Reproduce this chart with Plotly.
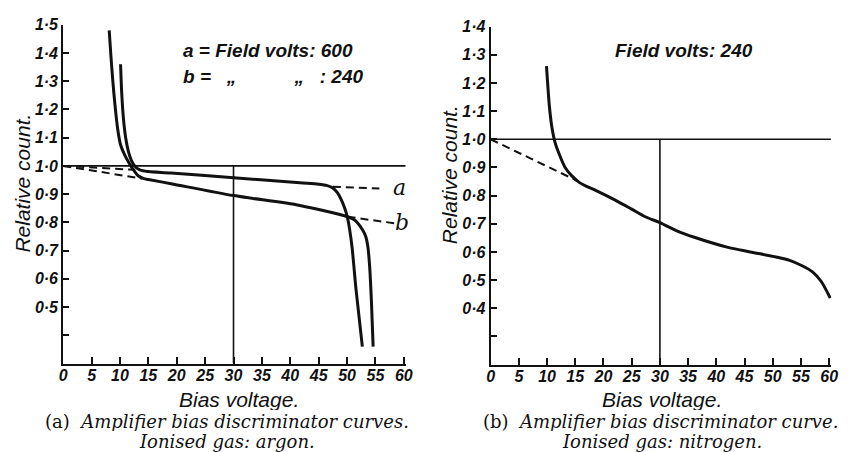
import plotly.graph_objects as go

W, H = 853, 452

# ---------------- data ----------------
# Panel (a): argon
a_x = [10.1, 10.3, 10.6, 11.0, 11.5, 12.0, 12.7, 13.6, 15.0, 19.0, 30.0, 41.7, 45.0, 46.5, 47.5, 48.3, 49.0, 49.6, 50.1, 50.5, 50.9, 51.6, 52.7]
a_y = [1.36, 1.26, 1.17, 1.10, 1.05, 1.02, 0.997, 0.985, 0.98, 0.975, 0.958, 0.940, 0.935, 0.930, 0.922, 0.905, 0.88, 0.85, 0.815, 0.77, 0.71, 0.56, 0.36]
b_x = [8.1, 8.4, 8.7, 9.1, 9.6, 10.1, 10.8, 11.6, 12.4, 13.2, 14.2, 15.0, 19.0, 30.0, 41.7, 50.1, 51.2, 51.9, 52.7, 53.3, 53.7, 54.0, 54.3, 54.6]
b_y = [1.48, 1.39, 1.31, 1.22, 1.13, 1.075, 1.04, 1.01, 0.985, 0.965, 0.955, 0.952, 0.937, 0.895, 0.86, 0.82, 0.81, 0.797, 0.775, 0.75, 0.71, 0.64, 0.52, 0.36]
a_dash_start_x = [0.0, 12.7]
a_dash_start_y = [1.0, 0.986]
b_dash_start_x = [0.0, 13.9]
b_dash_start_y = [1.0, 0.955]
a_dash_end_x = [47.5, 55.7]
a_dash_end_y = [0.926, 0.92]
b_dash_end_x = [50.1, 58.3]
b_dash_end_y = [0.82, 0.797]

# Panel (b): nitrogen
n_x = [9.9, 10.1, 10.4, 10.8, 11.4, 12.2, 13.2, 14.4, 15.7, 17.0, 18.7, 22.0, 25.0, 27.4, 30.0, 33.0, 36.1, 41.9, 46.0, 50.6, 53.0, 55.3, 57.0, 58.6, 60.2]
n_y = [1.26, 1.20, 1.12, 1.05, 0.99, 0.945, 0.90, 0.87, 0.847, 0.833, 0.818, 0.785, 0.752, 0.725, 0.704, 0.675, 0.652, 0.617, 0.60, 0.582, 0.57, 0.55, 0.53, 0.495, 0.436]
n_dash_x = [0.0, 15.2]
n_dash_y = [1.0, 0.854]

# reference lines
ref_h_x = [0.0, 60.3]
ref_h_y = [1.0, 1.0]
ref_v_x = [30.0, 30.0]
ref_v_top = 1.0
left_ymin, left_ymax = 0.3, 1.5
right_ymin, right_ymax = 0.2, 1.4

x_ticks = list(range(0, 61, 5))
x_ticktext = [str(v) for v in x_ticks]
left_yticks = [0.4, 0.5, 0.6, 0.7, 0.8, 0.9, 1.0, 1.1, 1.2, 1.3, 1.4, 1.5]
left_yticktext = ["", "0·5", "0·6", "0·7", "0·8", "0·9", "1·0", "1·1", "1·2", "1·3", "1·4", "1·5"]
right_yticks = [0.3, 0.4, 0.5, 0.6, 0.7, 0.8, 0.9, 1.0, 1.1, 1.2, 1.3, 1.4]
right_yticktext = ["", "0·4", "0·5", "0·6", "0·7", "0·8", "0·9", "1·0", "1·1", "1·2", "1·3", "1·4"]

# ---------------- figure ----------------
fig = go.Figure()
BLACK = "#111"
solid = dict(color=BLACK, width=3, shape="spline", smoothing=0.8)
thin = dict(color=BLACK, width=1.6)
dash = dict(color=BLACK, width=2, dash="8px,5px")

def add(x, y, line, xa="x", ya="y"):
    fig.add_trace(go.Scatter(x=x, y=y, mode="lines", line=line, xaxis=xa, yaxis=ya,
                             showlegend=False, hoverinfo="skip", cliponaxis=False))

# left panel
add(ref_h_x, ref_h_y, thin)
add(ref_v_x, [left_ymin, ref_v_top], thin)
add(a_dash_start_x, a_dash_start_y, dash)
add(b_dash_start_x, b_dash_start_y, dash)
add(a_dash_end_x, a_dash_end_y, dash)
add(b_dash_end_x, b_dash_end_y, dash)
add(a_x, a_y, solid)
add(b_x, b_y, solid)

# right panel
add(ref_h_x, ref_h_y, thin, "x2", "y2")
add(ref_v_x, [right_ymin, ref_v_top], thin, "x2", "y2")
add(n_dash_x, n_dash_y, dash, "x2", "y2")
add(n_x, n_y, solid, "x2", "y2")

def px_x(p):
    return p / W

def px_y(p):
    return 1 - p / H

tickfont = dict(family="Liberation Sans", size=16, color=BLACK, style="italic", weight="bold")
xaxis_common = dict(range=[0, 60.4], tickvals=x_ticks, ticktext=x_ticktext, ticks="inside", ticklen=7,
                    tickwidth=2, tickcolor=BLACK, showline=True, linewidth=2, linecolor=BLACK,
                    showgrid=False, zeroline=False, tickfont=tickfont, fixedrange=True,
                    ticklabelstandoff=-4)
yaxis_common = dict(ticks="inside", ticklen=6, tickwidth=2, tickcolor=BLACK, showline=True,
                    linewidth=2, linecolor=BLACK, showgrid=False, zeroline=False,
                    tickfont=dict(family="Liberation Sans", size=16, color=BLACK, style="italic", weight="bold"),
                    fixedrange=True)

fig.update_layout(
    width=W, height=H, margin=dict(l=0, r=0, t=0, b=0),
    paper_bgcolor="white", plot_bgcolor="white",
    xaxis=dict(domain=[px_x(60), px_x(407.3)], anchor="y", **xaxis_common),
    yaxis=dict(domain=[px_y(362), px_y(17)], anchor="x", range=[left_ymin, left_ymax],
               tickvals=left_yticks, ticktext=left_yticktext, **yaxis_common),
    xaxis2=dict(domain=[px_x(493), px_x(838.2)], anchor="y2", **xaxis_common),
    yaxis2=dict(domain=[px_y(363), px_y(19)], anchor="x2", range=[right_ymin, right_ymax],
                tickvals=right_yticks, ticktext=right_yticktext, **yaxis_common),
)

ann_font = dict(family="Liberation Sans", size=19, color=BLACK, style="italic", weight="bold")
serif = dict(family="DejaVu Serif", size=18, color=BLACK)
label_font = dict(family="DejaVu Serif", size=22, color=BLACK, style="italic")
title_font = dict(family="Liberation Sans", size=21, color=BLACK, style="italic")

def ann(text, x, y, font, xanchor="center", angle=0, xref="paper", yref="paper", height=None):
    fig.add_annotation(text=text, x=x, y=y, xref=xref, yref=yref, showarrow=False,
                       font=font, xanchor=xanchor, yanchor="middle", textangle=angle,
                       height=height, borderpad=0)

NB = "\u00a0"
# left panel texts
ann("a = Field volts: 600", px_x(180), px_y(43), ann_font, "left", height=24)
ann("b =" + NB * 3 + "„" + NB * 11 + "„" + NB * 3 + ": 240", px_x(180), px_y(69), ann_font, "left", height=24)
ann("a", 58.0, 0.922, label_font, "left", xref="x", yref="y")
ann("b", 58.2, 0.80, label_font, "left", xref="x", yref="y")
ann("Relative count.", px_x(19), px_y(178), title_font, angle=-90)
ann("Bias voltage.", px_x(238), px_y(398), title_font, height=22)
ann("(a)  <i>Amplifier bias discriminator curves.</i>", px_x(226), px_y(420), serif, height=20)
ann("<i>Ionised gas: argon.</i>", px_x(226), px_y(441), serif, height=22)

# right panel texts
ann("Field volts: 240", px_x(689), px_y(43), ann_font, height=24)
ann("Relative count.", px_x(452), px_y(170), title_font, angle=-90)
ann("Bias voltage.", px_x(667), px_y(398), title_font, height=22)
ann("(b)  <i>Amplifier bias discriminator curve.</i>", px_x(665), px_y(420), serif, height=20)
ann("<i>Ionised gas: nitrogen.</i>", px_x(667), px_y(441), serif, height=22)

fig.write_html("out.html", config={"displayModeBar": False},
               post_script="document.body.style.margin='0';document.body.style.overflow='hidden';")
